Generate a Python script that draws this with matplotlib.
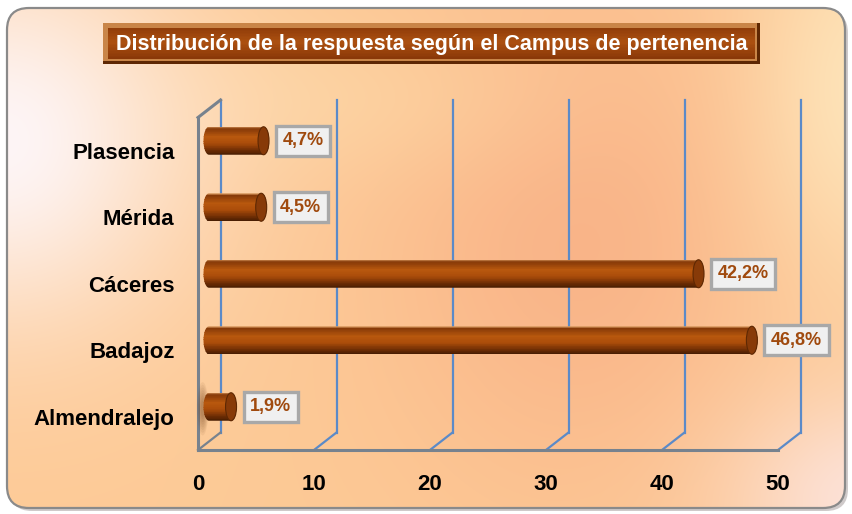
import numpy as np
import matplotlib
matplotlib.use("Agg")
import matplotlib.pyplot as plt
from matplotlib.patches import Rectangle, Ellipse, PathPatch, FancyBboxPatch
from matplotlib.path import Path
from matplotlib.lines import Line2D
from matplotlib.transforms import Affine2D

# ---------------- data ----------------
title = "Distribución de la respuesta según el Campus de pertenencia"
categories = ["Almendralejo", "Badajoz", "Cáceres", "Mérida", "Plasencia"]
values = [1.9, 46.8, 42.2, 4.5, 4.7]
value_labels = ["1,9%", "46,8%", "42,2%", "4,5%", "4,7%"]
xticks = [0, 10, 20, 30, 40, 50]

plt.rcParams["font.family"] = ["Liberation Sans", "DejaVu Sans"]

W, H = 852, 514
fig = plt.figure(figsize=(W / 100, H / 100), dpi=100)

# ---------------- background ----------------
bg = fig.add_axes([0, 0, 1, 1], zorder=-5)
bg.set_xlim(0, W)
bg.set_ylim(H, 0)
bg.axis("off")

yy, xx = np.mgrid[0:H, 0:W].astype(float)
base = np.array([253, 202, 150], float)
img = np.ones((H, W, 3)) * base

def blend(img, cx, cy, sx, sy, col, strength=1.0):
    w = strength * np.exp(-(((xx - cx) / sx) ** 2 + ((yy - cy) / sy) ** 2))
    col = np.array(col, float)
    return img * (1 - w[..., None]) + col * w[..., None]

img = blend(img, 580, 230, 200, 260, (249, 178, 135), 0.9)
img = blend(img, 330, 100, 220, 80, (253, 218, 168), 0.5)
img = blend(img, 0, 140, 190, 190, (254, 245, 246), 1.0)
img = blend(img, 870, 90, 120, 200, (254, 230, 188), 0.9)
img = blend(img, 870, 500, 140, 110, (252, 228, 222), 0.9)
img = np.clip(img, 0, 255) / 255.0

shadow = FancyBboxPatch((10, 11), 838, 500, boxstyle="round,pad=0,rounding_size=22",
                        fc="#b0a8a8", ec="none", alpha=0.6, zorder=0)
bg.add_patch(shadow)
frame = FancyBboxPatch((7, 8), 838, 500, boxstyle="round,pad=0,rounding_size=22",
                       fc="none", ec="#8a8a8a", lw=1.6, zorder=3)
bg.add_patch(frame)
im = bg.imshow(img, extent=(0, W, H, 0), zorder=1, interpolation="bilinear")
clip = FancyBboxPatch((7, 8), 838, 500, boxstyle="round,pad=0,rounding_size=22",
                      fc="none", ec="none", transform=bg.transData)
bg.add_patch(clip)
im.set_clip_path(clip)

# ---------------- title box ----------------
tx0, ty0, tx1, ty1 = 103, 23, 760, 64
bg.add_patch(Rectangle((tx0, ty0), tx1 - tx0, ty1 - ty0, fc="#5e2703", ec="none", zorder=4))
bg.add_patch(Rectangle((tx0, ty0), tx1 - tx0 - 3, ty1 - ty0 - 3, fc="#c98548", ec="none", zorder=4))
stops = [(0.0, (146, 62, 10)), (0.45, (172, 80, 16)), (1.0, (138, 56, 8))]
n = 20
for i in range(n):
    f = i / (n - 1)
    c = [np.interp(f, [s[0] for s in stops], [s[1][k] for s in stops]) for k in range(3)]
    hh = (ty1 - ty0 - 10) / n
    bg.add_patch(Rectangle((tx0 + 5, ty0 + 5 + i * hh), tx1 - tx0 - 10, hh + 0.3,
                           fc=np.array(c) / 255, ec="none", zorder=5))
bg.text((tx0 + tx1) / 2, (ty0 + ty1) / 2 + 1, title, color="white", fontsize=15.5,
        fontweight="bold", ha="center", va="center", zorder=6)

# ---------------- main axes ----------------
ax = fig.add_axes([198 / W, 64 / H, 580 / W, 332.5 / H])
ax.set_xlim(0, 50)
ax.set_ylim(-0.5, 4.5)
ax.patch.set_visible(False)
for s in ax.spines.values():
    s.set_visible(False)
ax.set_xticks(xticks)
ax.set_xticklabels([str(t) for t in xticks], fontsize=16, fontweight="bold")
ax.set_yticks(range(len(categories)))
ax.set_yticklabels(categories, fontsize=16, fontweight="bold")
ax.tick_params(axis="x", length=0, pad=17)
ax.tick_params(axis="y", length=0, pad=17)

DX, DY = 22.5, 17.5
trans_back = ax.transData + Affine2D().translate(DX, DY)
MX, MY = 11, 10
trans_mid = ax.transData + Affine2D().translate(MX, MY)

BLUE = "#5b8ac8"
GRAY = "#77828e"
y0, y1 = -0.5, 4.5
to_bg = bg.transData.inverted()

def seg(p, q, tp, tq, color, lw, z=3.5):
    a = to_bg.transform(tp.transform(p))
    b = to_bg.transform(tq.transform(q))
    bg.add_line(Line2D([a[0], b[0]], [a[1], b[1]], color=color, lw=lw,
                       zorder=z, solid_capstyle="projecting"))

# back wall gridlines
for t in xticks:
    seg((t, y0), (t, y1), trans_back, trans_back, BLUE, 1.6)
# floor diagonals
for t in xticks:
    seg((t, y0), (t, y0), ax.transData, trans_back, BLUE if t else GRAY, 1.6)
# left wall and floor front edge
seg((0, y1), (0, y1), ax.transData, trans_back, GRAY, 2.2)
seg((0, y0), (0, y1), ax.transData, ax.transData, GRAY, 2.2)
seg((0, y0), (50, y0), ax.transData, ax.transData, GRAY, 2.2)

# faint shadow of the small bar on the left wall
for k in range(8):
    sc = 1 - k * 0.1
    ax.add_patch(Ellipse((0.4, 0.12), 1.0 * sc, 0.8 * sc, fc="#6b3a12", ec="none",
                         alpha=0.07, transform=ax.transData, zorder=1.5, clip_on=False))

# ---------------- cylinders ----------------
px_per_unit = 580 / 50
w = 11 / px_per_unit        # cap width in data units
h = 28 / 66.5               # bar height in data units
gstops = [(0.0, (214, 150, 92)), (0.06, (132, 56, 8)), (0.36, (184, 88, 14)),
          (0.6, (170, 76, 10)), (0.86, (108, 44, 4)), (1.0, (74, 30, 2))]
gf = [s[0] for s in gstops]

def gcol(f):
    return np.array([np.interp(f, gf, [s[1][k] for s in gstops]) for k in range(3)]) / 255

for yi, (v, lab) in enumerate(zip(values, value_labels)):
    t_r = np.linspace(-np.pi / 2, np.pi / 2, 40)
    t_l = np.linspace(np.pi / 2, 3 * np.pi / 2, 40)
    xs = np.concatenate([v + w / 2 * np.cos(t_r), 0 + w / 2 * np.cos(t_l)])
    ys = np.concatenate([yi + h / 2 * np.sin(t_r), yi + h / 2 * np.sin(t_l)])
    verts = np.column_stack([xs, ys])
    path = Path(np.vstack([verts, verts[:1]]), closed=True)
    outline = PathPatch(path, fc="none", ec="none", transform=trans_mid, clip_on=False)
    ax.add_patch(outline)
    ns = 40
    for i in range(ns):
        f = i / (ns - 1)
        ytop = yi + h / 2 - i * h / ns
        r = Rectangle((-w, ytop - h / ns - 0.002), v + 2 * w, h / ns + 0.004,
                      fc=gcol(f), ec="none", transform=trans_mid, zorder=3)
        ax.add_patch(r)
        r.set_clip_path(outline)
    cap = Ellipse((v, yi), w, h, fc="#873a08", ec="#5e2803", lw=0.8,
                  transform=trans_mid, zorder=4, clip_on=False)
    ax.add_patch(cap)
    ax.annotate(lab, xy=(v, yi), xycoords=trans_mid, xytext=(19, 0),
                textcoords="offset pixels", ha="left", va="center",
                fontsize=13, fontweight="bold", color="#a04a0e", zorder=6,
                bbox=dict(boxstyle="square,pad=0.36", fc="#f0f0f0", ec="#a8a8a8", lw=2.4))

fig.savefig("out.png", dpi=100)
